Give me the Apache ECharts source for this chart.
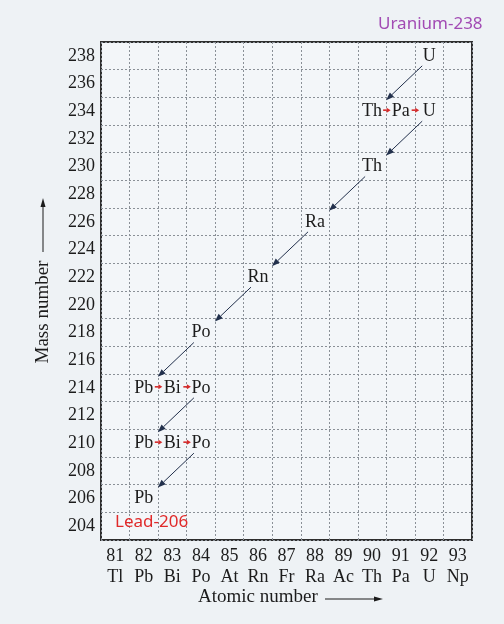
<!DOCTYPE html>
<html>
<head>
<meta charset="utf-8">
<script src="https://cdn.jsdelivr.net/npm/echarts@6/dist/echarts.min.js"></script>
<style>
  html, body { margin: 0; padding: 0; background: #eef2f5; }
  #chart { width: 504px; height: 624px; }
</style>
</head>
<body>
<div id="chart"></div>
<script>
// Zerfallsreihe Uran-238 -> Blei-206
const ORDNUNGSZAHLEN = [81, 82, 83, 84, 85, 86, 87, 88, 89, 90, 91, 92, 93];
const SYMBOLE = ['Tl', 'Pb', 'Bi', 'Po', 'At', 'Rn', 'Fr', 'Ra', 'Ac', 'Th', 'Pa', 'U', 'Np'];
const MASSEN = ['204', '206', '208', '210', '212', '214', '216', '218', '220',
                '222', '224', '226', '228', '230', '232', '234', '236', '238'];

// Nuklide der Reihe: Ordnungszahl, Massenzahl, Symbol
const NUKLID_Z = [92, 90, 91, 92, 90, 88, 86, 84, 82, 83, 84, 82, 83, 84, 82];
const NUKLID_A = ['238', '234', '234', '234', '230', '226', '222', '218', '214', '214', '214', '210', '210', '210', '206'];
const NUKLID_SYM = ['U', 'Th', 'Pa', 'U', 'Th', 'Ra', 'Rn', 'Po', 'Pb', 'Bi', 'Po', 'Pb', 'Bi', 'Po', 'Pb'];

// Übergänge als Paare von Nuklid-Indizes
const ALPHA = [[0, 1], [3, 4], [4, 5], [5, 6], [6, 7], [7, 8], [10, 11], [13, 14]];
const BETA = [[1, 2], [2, 3], [8, 9], [9, 10], [11, 12], [12, 13]];

const SERIF = '"Liberation Serif", "DejaVu Serif", serif';
const SANS = '"Noto Sans", "Open Sans", sans-serif';
const TINTE = '#1c1c1c';

function pos(i) {
  return [ORDNUNGSZAHLEN.indexOf(NUKLID_Z[i]), MASSEN.indexOf(NUKLID_A[i])];
}

function uebergaenge(paare) {
  return paare.map(([a, b]) => pos(a).concat(pos(b)));
}

// Pfeil zwischen zwei Nukliden, Enden in Pixeln versetzt
function pfeilRenderer(farbe, versatzStart, versatzEnde, kopfLaenge, kopfBreite, breite) {
  return function (params, api) {
    const a = api.coord([api.value(0), api.value(1)]);
    const b = api.coord([api.value(2), api.value(3)]);
    const s = [a[0] + versatzStart[0], a[1] + versatzStart[1]];
    const e = [b[0] + versatzEnde[0], b[1] + versatzEnde[1]];
    const len = Math.hypot(e[0] - s[0], e[1] - s[1]);
    const dx = (e[0] - s[0]) / len, dy = (e[1] - s[1]) / len;
    const basis = [e[0] - dx * kopfLaenge, e[1] - dy * kopfLaenge];
    return {
      type: 'group',
      children: [
        { type: 'line', shape: { x1: s[0], y1: s[1], x2: basis[0], y2: basis[1] },
          style: { stroke: farbe, lineWidth: breite } },
        { type: 'polygon',
          shape: { points: [e,
            [basis[0] - dy * kopfBreite, basis[1] + dx * kopfBreite],
            [basis[0] + dy * kopfBreite, basis[1] - dx * kopfBreite]] },
          style: { fill: farbe } }
      ]
    };
  };
}

const chart = echarts.init(document.getElementById('chart'), null, { renderer: 'canvas' });

const GITTER = { show: true, interval: 0, lineStyle: { color: '#8a9097', width: 1, type: [2, 2] } };

chart.setOption({
  backgroundColor: '#eef2f5',
  animation: false,
  grid: {
    left: 101, right: 32, top: 42, bottom: 84,
    show: true, backgroundColor: '#f3f6f9', borderColor: '#2e2e2e', borderWidth: 2
  },
  xAxis: {
    type: 'category', data: ORDNUNGSZAHLEN, boundaryGap: true,
    axisLine: { show: false }, axisTick: { show: false },
    axisLabel: {
      interval: 0, margin: 6, color: TINTE, fontFamily: SERIF, fontSize: 18, lineHeight: 21,
      formatter: (v, i) => v + '\n' + SYMBOLE[i]
    },
    splitLine: GITTER
  },
  yAxis: {
    type: 'category', data: MASSEN, boundaryGap: true,
    axisLine: { show: false }, axisTick: { show: false },
    axisLabel: { interval: 0, margin: 6, color: TINTE, fontFamily: SERIF, fontSize: 18 },
    splitLine: GITTER
  },
  graphic: [
    { type: 'text', z: 100, left: 378, top: 16,
      style: { text: 'Uranium-238', fill: '#a24bb4', font: '17px ' + SANS } },
    { type: 'text', z: 100, left: 115, top: 514,
      style: { text: 'Lead-206', fill: '#e02a2a', font: '17px ' + SANS } },
    { type: 'text', z: 100, left: 198, top: 588,
      style: { text: 'Atomic number', fill: TINTE, font: '19px ' + SERIF } },
    { type: 'line', z: 100, shape: { x1: 325, y1: 599, x2: 376, y2: 599 },
      style: { stroke: TINTE, lineWidth: 1 } },
    { type: 'polygon', z: 100, shape: { points: [[383, 599], [374, 596.5], [374, 601.5]] },
      style: { fill: TINTE } },
    { type: 'text', z: 100, x: 43, y: 312, rotation: Math.PI / 2,
      style: { text: 'Mass number', fill: TINTE, font: '19px ' + SERIF,
               align: 'center', verticalAlign: 'middle' } },
    { type: 'line', z: 100, shape: { x1: 43, y1: 252, x2: 43, y2: 206 },
      style: { stroke: TINTE, lineWidth: 1 } },
    { type: 'polygon', z: 100, shape: { points: [[43, 198], [40.5, 207], [45.5, 207]] },
      style: { fill: TINTE } }
  ],
  series: [
    {
      type: 'scatter', symbolSize: 1,
      itemStyle: { color: 'rgba(0,0,0,0)', opacity: 1 },
      data: NUKLID_SYM.map((s, i) => ({ name: s, value: pos(i) })),
      label: { show: true, position: 'inside', formatter: '{b}', opacity: 1,
               color: TINTE, fontFamily: SERIF, fontSize: 18 },
      emphasis: { disabled: true },
      z: 5
    },
    {
      type: 'custom', data: uebergaenge(ALPHA), encode: { x: [0, 2], y: [1, 3] },
      renderItem: pfeilRenderer('#22304c', [-7, 10], [14, -11], 8, 3, 1), z: 4
    },
    {
      type: 'custom', data: uebergaenge(BETA), encode: { x: [0, 2], y: [1, 3] },
      renderItem: pfeilRenderer('#d62a2a', [11, -1], [-10, -1], 4, 2.5, 1.6), z: 4
    }
  ]
});
</script>
</body>
</html>
